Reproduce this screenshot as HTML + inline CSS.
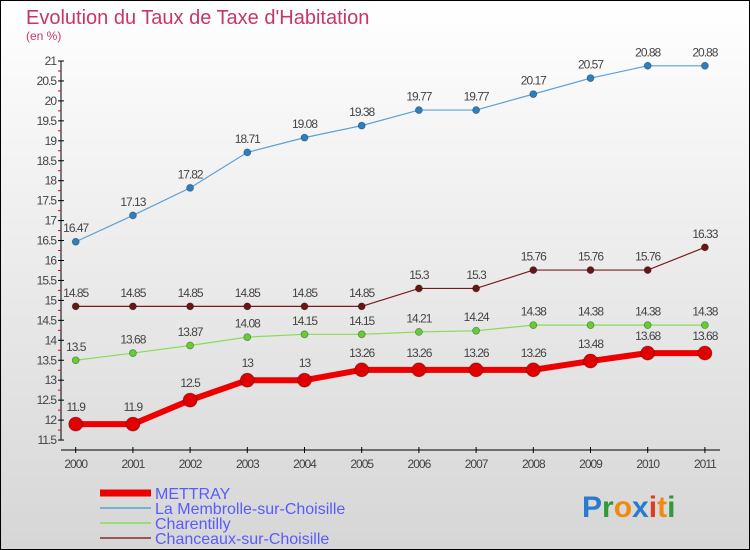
<!DOCTYPE html>
<html><head><meta charset="utf-8"><style>
body{margin:0}
#c{width:750px;height:550px;position:relative;box-sizing:border-box;border:1px solid #000;background:linear-gradient(#fff,#d6d6d6);font-family:"Liberation Sans",sans-serif;overflow:hidden}
</style></head><body>
<div id="c">
<svg id="s" width="750" height="550" style="position:absolute;left:-1px;top:-1px">
<text x="26" y="24" font-size="20" fill="#c8356a">Evolution du Taux de Taxe d'Habitation</text>
<text x="26" y="40" font-size="12" fill="#c8356a">(en %)</text>
<g id="axes"></g><g id="series"></g><g id="legend"></g>
<text x="582" y="517" font-size="30" font-weight="bold"><tspan fill="#2a7bd0">P</tspan><tspan fill="#2e9a3a">r</tspan><tspan fill="#f08a10">o</tspan><tspan fill="#2a7bd0">x</tspan><tspan fill="#e03a20">i</tspan><tspan fill="#f08a10">t</tspan><tspan fill="#2e9a3a">i</tspan></text>
</svg>
</div>
<script>
const years=[2000,2001,2002,2003,2004,2005,2006,2007,2008,2009,2010,2011];
const mettray=[11.9,11.9,12.5,13,13,13.26,13.26,13.26,13.26,13.48,13.68,13.68];
const membrolle=[16.47,17.13,17.82,18.71,19.08,19.38,19.77,19.77,20.17,20.57,20.88,20.88];
const charentilly=[13.5,13.68,13.87,14.08,14.15,14.15,14.21,14.24,14.38,14.38,14.38,14.38];
const chanceaux=[14.85,14.85,14.85,14.85,14.85,14.85,15.3,15.3,15.76,15.76,15.76,16.33];
const yTicks=[11.5,12,12.5,13,13.5,14,14.5,15,15.5,16,16.5,17,17.5,18,18.5,19,19.5,20,20.5,21];
const seriesNames=["METTRAY","La Membrolle-sur-Choisille","Charentilly","Chanceaux-sur-Choisille"];
const NS="http://www.w3.org/2000/svg";
const X=i=>75.7+i*57.2;
const Y=v=>61+(21-v)*39.9;
function mk(p,t,a){const e=document.createElementNS(NS,t);for(const k in a)e.setAttribute(k,a[k]);p.appendChild(e);return e;}
const ax=document.getElementById('axes');
const yl=mk(ax,'line',{x1:61,y1:Y(21),x2:61,y2:Y(11.5),stroke:'#000'});


yTicks.forEach(v=>{
 const tk=mk(ax,'line',{x1:58,x2:64,y1:Y(v),y2:Y(v),stroke:'#000'});
 
 
 const lb=mk(ax,'text',{x:56,y:Y(v)+4,'font-size':12,'text-anchor':'end',fill:'#444','letter-spacing':'-1'});
 lb.textContent=v;
 
 
 if(v<21){const m=mk(ax,'line',{x1:58,x2:61,y1:Y(v+0.25),y2:Y(v+0.25),stroke:'#e00'});
 
 }
});
const xl=mk(ax,'line',{x1:61,y1:450,x2:720,y2:450,stroke:'#000'});


years.forEach((y,i)=>{
 const tk=mk(ax,'line',{x1:X(i),x2:X(i),y1:447,y2:453,stroke:'#000'});
 
 
 const lb=mk(ax,'text',{x:X(i),y:468,'font-size':12,'text-anchor':'middle',fill:'#444','letter-spacing':'-1'});
 lb.textContent=y;
 
 
});
const sg=document.getElementById('series');
const defs=[[membrolle,'#5aa0d8','#2d80c0',1.2,3.5,'membrolle'],[chanceaux,'#7a1c1c','#6a1515',1.2,3.5,'chanceaux'],[charentilly,'#88dd55','#66cc33',1.2,3.5,'charentilly'],[mettray,'#ee0000','#e00000',6,7,'mettray']];
defs.forEach(([d,lc,pc,w,r,n])=>{
 const pl=mk(sg,'polyline',{points:d.map((v,i)=>X(i)+','+Y(v)).join(' '),fill:'none',stroke:lc,'stroke-width':w});
 
 
 d.forEach((v,i)=>{
  const c=mk(sg,'circle',{cx:X(i),cy:Y(v),r:r,fill:pc,stroke:'rgba(0,0,0,0.35)','stroke-width':0.8});
  
  
  const t=mk(sg,'text',{x:X(i),y:Y(v)-(r+6),'font-size':12,'text-anchor':'middle',fill:'#444','letter-spacing':'-1'});
  t.textContent=v;
  
  
 });
});
const lg=document.getElementById('legend');
const lcol=['#ee0000','#7ab0d0','#99dd77','#9a5555'];const lw=[7,2,2,2];
seriesNames.forEach((s,i)=>{
 const y=493+i*15;
 const l=mk(lg,'line',{x1:100,x2:151,y1:y,y2:y,stroke:lcol[i],'stroke-width':lw[i]});
 
 
 const t=mk(lg,'text',{x:155,y:y+6,'font-size':16,fill:'#5a5aff'});
 t.textContent=s;
 
 
});
</script>
</body></html>
